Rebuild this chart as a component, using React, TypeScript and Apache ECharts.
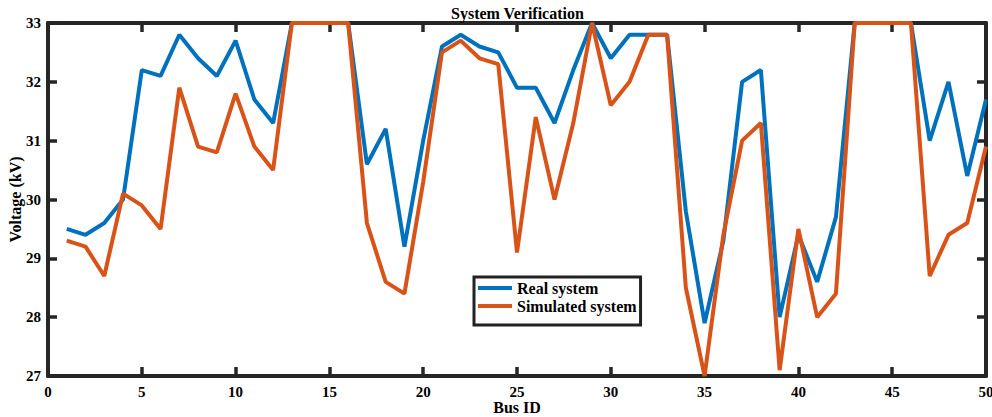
import React, { useEffect, useRef } from "react";
import * as echarts from "echarts";

const busIds = [1, 2, 3, 4, 5, 6, 7, 8, 9, 10, 11, 12, 13, 14, 15, 16, 17, 18, 19, 20, 21, 22, 23, 24, 25, 26, 27, 28, 29, 30, 31, 32, 33, 34, 35, 36, 37, 38, 39, 40, 41, 42, 43, 44, 45, 46, 47, 48, 49, 50];

const realSystem = [29.5, 29.4, 29.6, 30.0, 32.2, 32.1, 32.8, 32.4, 32.1, 32.7, 31.7, 31.3, 33, 33, 33, 33, 30.6, 31.2, 29.2, 31.0, 32.6, 32.8, 32.6, 32.5, 31.9, 31.9, 31.3, 32.2, 33.0, 32.4, 32.8, 32.8, 32.8, 29.8, 27.9, 29.3, 32.0, 32.2, 28.0, 29.4, 28.6, 29.7, 33, 33, 33, 33, 31.0, 32.0, 30.4, 31.7];

const simulatedSystem = [29.3, 29.2, 28.7, 30.1, 29.9, 29.5, 31.9, 30.9, 30.8, 31.8, 30.9, 30.5, 33, 33, 33, 33, 29.6, 28.6, 28.4, 30.3, 32.5, 32.7, 32.4, 32.3, 29.1, 31.4, 30.0, 31.3, 33.0, 31.6, 32.0, 32.8, 32.8, 28.5, 27.0, 29.4, 31.0, 31.3, 27.1, 29.5, 28.0, 28.4, 33, 33, 33, 33, 28.7, 29.4, 29.6, 30.9];

const seriesNames = ["Real system", "Simulated system"];
const xMin = 0;
const xMax = 50;
const xInterval = 5;
const yMin = 27;
const yMax = 33;
const yInterval = 1;

const FONT = "'Liberation Serif', 'Times New Roman', serif";
const AXIS_COLOR = "#262626";

export default function App() {
  const ref = useRef<HTMLDivElement>(null);

  useEffect(() => {
    if (!ref.current) return;
    const chart = echarts.init(ref.current, undefined, { renderer: "svg" });

    const axisCommon = {
      axisLine: { show: true, onZero: false, lineStyle: { color: AXIS_COLOR, width: 4 } },
      axisTick: { show: true, inside: true, length: 9, lineStyle: { color: AXIS_COLOR, width: 3.5 } },
      splitLine: { show: false },
    };

    const option: any = {
      animation: false,
      backgroundColor: "#ffffff",
      title: {
        text: "System Verification",
        left: 451,
        top: 5,
        padding: 0,
        textStyle: { fontFamily: FONT, fontWeight: "bold", fontSize: 16, color: "#000" },
      },
      grid: { left: 48, right: 6, top: 23, bottom: 41, containLabel: false, outerBoundsMode: "none" },
      legend: {
        orient: "vertical",
        left: 474,
        top: 277,
        icon: "rect",
        itemWidth: 34,
        itemHeight: 4,
        itemGap: 2,
        padding: [3, 4, 11, 4],
        borderColor: "#222",
        borderWidth: 3,
        backgroundColor: "#fff",
        textStyle: { fontFamily: FONT, fontWeight: "bold", fontSize: 16, color: "#000", lineHeight: 16 },
        data: seriesNames,
      },
      xAxis: [
        {
          ...axisCommon,
          type: "value",
          min: xMin,
          max: xMax,
          interval: xInterval,
          position: "bottom",
          name: "Bus ID",
          nameLocation: "middle",
          nameGap: 23,
          nameMoveOverlap: false,
          nameTextStyle: { fontFamily: FONT, fontWeight: "bold", fontSize: 16, color: "#000" },
          axisLabel: { fontFamily: FONT, fontWeight: "bold", fontSize: 15, color: "#000", margin: 8 },
        },
        {
          ...axisCommon,
          type: "value",
          min: xMin,
          max: xMax,
          interval: xInterval,
          position: "top",
          axisLabel: { show: false },
        },
      ],
      yAxis: [
        {
          ...axisCommon,
          type: "value",
          min: yMin,
          max: yMax,
          interval: yInterval,
          position: "left",
          name: "Voltage (kV)",
          nameLocation: "middle",
          nameGap: 25,
          nameMoveOverlap: false,
          nameTextStyle: { fontFamily: FONT, fontWeight: "bold", fontSize: 16, color: "#000" },
          axisLabel: { fontFamily: FONT, fontWeight: "bold", fontSize: 15, color: "#000", margin: 7 },
        },
        {
          ...axisCommon,
          type: "value",
          min: yMin,
          max: yMax,
          interval: yInterval,
          position: "right",
          axisLabel: { show: false },
        },
      ],
      series: [
        {
          name: seriesNames[0],
          type: "line",
          xAxisIndex: 0,
          yAxisIndex: 0,
          data: busIds.map((b, i) => [b, realSystem[i]]),
          showSymbol: false,
          symbol: "none",
          clip: false,
          color: "#0072BD",
          lineStyle: { color: "#0072BD", width: 4 },
          z: 3,
        },
        {
          name: seriesNames[1],
          type: "line",
          xAxisIndex: 0,
          yAxisIndex: 0,
          data: busIds.map((b, i) => [b, simulatedSystem[i]]),
          showSymbol: false,
          symbol: "none",
          clip: false,
          color: "#D95319",
          lineStyle: { color: "#D95319", width: 4 },
          z: 4,
        },
      ],
    };

    chart.setOption(option);
    return () => chart.dispose();
  }, []);

  return (
    <div
      ref={ref}
      style={{ position: "fixed", left: 0, top: 0, width: 992, height: 417, background: "#fff" }}
    />
  );
}
